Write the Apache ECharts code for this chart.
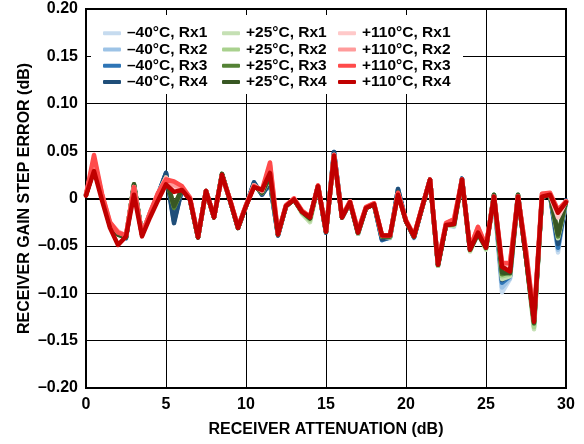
<!DOCTYPE html>
<html>
<head>
<meta charset="utf-8">
<script src="https://cdn.jsdelivr.net/npm/echarts@6/dist/echarts.min.js"></script>
<style>html,body{margin:0;padding:0;background:#fff}#c{width:584px;height:444px}</style>
</head>
<body>
<div id="c"></div>
<script>
var xs = [0,0.5,1,1.5,2,2.5,3,3.5,4,4.5,5,5.5,6,6.5,7,7.5,8,8.5,9,9.5,10,10.5,11,11.5,12,12.5,13,13.5,14,14.5,15,15.5,16,16.5,17,17.5,18,18.5,19,19.5,20,20.5,21,21.5,22,22.5,23,23.5,24,24.5,25,25.5,26,26.5,27,27.5,28,28.5,29,29.5,30];

var seriesNames = ['–40°C, Rx1','–40°C, Rx2','–40°C, Rx3','–40°C, Rx4','+25°C, Rx1','+25°C, Rx2','+25°C, Rx3','+25°C, Rx4','+110°C, Rx1','+110°C, Rx2','+110°C, Rx3','+110°C, Rx4'];
var seriesColors = ['#c6dbef','#9dc3e6','#2e75b6','#1f4e79','#c5e0b4','#a9d18e','#548235','#385723','#ffc9c9','#ff9b9b','#ff4b4b','#c00000'];

var m40Rx1 = [0.004,0.034,0.002,-0.028,-0.036,-0.040,0.013,-0.038,-0.016,0.004,0.026,-0.015,0.010,-0.001,-0.041,0.008,-0.020,0.025,-0.002,-0.031,-0.008,0.015,0.006,0.018,-0.038,-0.008,-0.001,-0.014,-0.020,0.013,-0.035,0.047,-0.020,-0.004,-0.036,-0.010,-0.006,-0.043,-0.042,0.006,-0.024,-0.042,-0.010,0.020,-0.070,-0.028,-0.030,0.020,-0.054,-0.037,-0.052,0.002,-0.099,-0.085,0.002,-0.062,-0.134,0.002,0.004,-0.057,-0.003];
var m40Rx2 = [0.004,0.034,0.002,-0.028,-0.036,-0.040,0.013,-0.038,-0.016,0.004,0.026,-0.018,0.010,-0.001,-0.041,0.008,-0.020,0.025,-0.002,-0.031,-0.008,0.015,0.006,0.017,-0.038,-0.008,-0.001,-0.014,-0.020,0.013,-0.035,0.047,-0.020,-0.004,-0.036,-0.010,-0.006,-0.043,-0.041,0.006,-0.024,-0.041,-0.010,0.020,-0.070,-0.028,-0.029,0.020,-0.054,-0.037,-0.052,0.002,-0.094,-0.084,0.002,-0.062,-0.135,0.002,0.004,-0.054,-0.003];
var m40Rx3 = [0.004,0.036,0.002,-0.028,-0.037,-0.042,0.013,-0.038,-0.016,0.004,0.027,-0.024,0.010,-0.001,-0.041,0.008,-0.020,0.025,-0.002,-0.031,-0.008,0.017,0.004,0.016,-0.039,-0.008,-0.001,-0.014,-0.020,0.013,-0.036,0.049,-0.020,-0.004,-0.037,-0.010,-0.006,-0.044,-0.041,0.010,-0.024,-0.041,-0.010,0.020,-0.071,-0.028,-0.028,0.021,-0.054,-0.037,-0.052,0.002,-0.089,-0.082,0.002,-0.062,-0.132,0.002,0.004,-0.052,-0.002];
var m40Rx4 = [0.004,0.035,0.002,-0.028,-0.037,-0.041,0.013,-0.038,-0.016,0.004,0.027,-0.026,0.010,-0.001,-0.041,0.008,-0.020,0.025,-0.002,-0.031,-0.008,0.017,0.004,0.017,-0.039,-0.008,-0.001,-0.014,-0.020,0.013,-0.036,0.049,-0.020,-0.004,-0.037,-0.010,-0.006,-0.043,-0.041,0.010,-0.024,-0.041,-0.010,0.020,-0.070,-0.028,-0.028,0.021,-0.054,-0.037,-0.052,0.003,-0.086,-0.081,0.003,-0.062,-0.131,0.003,0.004,-0.048,-0.002];

var p25Rx1 = [0.004,0.032,0.002,-0.028,-0.036,-0.040,0.014,-0.038,-0.016,0.004,0.022,-0.008,0.010,-0.001,-0.041,0.008,-0.020,0.025,-0.002,-0.031,-0.008,0.014,0.006,0.022,-0.038,-0.008,-0.001,-0.016,-0.025,0.013,-0.035,0.046,-0.020,-0.004,-0.037,-0.010,-0.006,-0.040,-0.041,0.005,-0.024,-0.040,-0.010,0.019,-0.071,-0.028,-0.029,0.019,-0.056,-0.037,-0.054,0.002,-0.085,-0.082,0.002,-0.062,-0.138,0.002,0.004,-0.042,-0.003];
var p25Rx2 = [0.004,0.032,0.002,-0.028,-0.036,-0.040,0.014,-0.038,-0.016,0.004,0.022,-0.009,0.010,-0.001,-0.041,0.008,-0.020,0.025,-0.002,-0.031,-0.008,0.014,0.006,0.022,-0.038,-0.008,-0.001,-0.015,-0.023,0.013,-0.035,0.046,-0.020,-0.004,-0.037,-0.010,-0.006,-0.040,-0.041,0.005,-0.024,-0.040,-0.010,0.019,-0.071,-0.028,-0.028,0.019,-0.055,-0.037,-0.053,0.002,-0.082,-0.080,0.002,-0.062,-0.136,0.002,0.004,-0.040,-0.003];
var p25Rx3 = [0.004,0.031,0.002,-0.029,-0.038,-0.041,0.015,-0.038,-0.016,0.004,0.022,-0.010,0.010,-0.001,-0.041,0.008,-0.020,0.026,-0.002,-0.031,-0.008,0.014,0.006,0.024,-0.038,-0.008,-0.001,-0.014,-0.021,0.013,-0.035,0.046,-0.020,-0.004,-0.036,-0.010,-0.006,-0.040,-0.040,0.006,-0.024,-0.040,-0.010,0.020,-0.070,-0.028,-0.027,0.020,-0.054,-0.037,-0.052,0.004,-0.080,-0.078,0.004,-0.062,-0.132,0.002,0.004,-0.040,-0.003];
var p25Rx4 = [0.004,0.031,0.002,-0.029,-0.038,-0.041,0.015,-0.038,-0.016,0.004,0.021,-0.008,0.010,-0.001,-0.041,0.008,-0.020,0.026,-0.002,-0.031,-0.008,0.014,0.006,0.024,-0.038,-0.008,-0.001,-0.014,-0.021,0.013,-0.035,0.046,-0.020,-0.004,-0.036,-0.010,-0.006,-0.040,-0.040,0.006,-0.024,-0.040,-0.010,0.020,-0.070,-0.028,-0.027,0.020,-0.054,-0.037,-0.052,0.004,-0.078,-0.079,0.004,-0.062,-0.131,0.002,0.004,-0.038,-0.003];

var p110Rx1 = [0.004,0.040,0.004,-0.026,-0.035,-0.039,0.012,-0.038,-0.015,0.005,0.022,0.012,0.010,0.000,-0.040,0.008,-0.019,0.024,-0.001,-0.030,-0.007,0.014,0.008,0.032,-0.037,-0.007,0.000,-0.013,-0.019,0.013,-0.034,0.046,-0.019,-0.003,-0.034,-0.009,-0.005,-0.039,-0.039,0.005,-0.023,-0.039,-0.009,0.020,-0.068,-0.026,-0.023,0.020,-0.052,-0.030,-0.050,0.002,-0.068,-0.070,0.002,-0.055,-0.125,0.004,0.004,-0.020,-0.003];
var p110Rx2 = [0.004,0.042,0.004,-0.026,-0.035,-0.039,0.012,-0.038,-0.015,0.005,0.021,0.014,0.011,0.000,-0.040,0.008,-0.019,0.024,-0.001,-0.030,-0.007,0.014,0.008,0.035,-0.037,-0.007,0.000,-0.013,-0.019,0.013,-0.034,0.046,-0.019,-0.003,-0.034,-0.009,-0.005,-0.039,-0.039,0.005,-0.023,-0.039,-0.009,0.020,-0.068,-0.026,-0.022,0.020,-0.052,-0.031,-0.050,0.002,-0.070,-0.069,0.002,-0.056,-0.128,0.005,0.005,-0.015,-0.003];
var p110Rx3 = [0.004,0.046,0.005,-0.025,-0.036,-0.039,0.012,-0.038,-0.015,0.006,0.020,0.018,0.013,0.001,-0.040,0.008,-0.019,0.024,-0.001,-0.030,-0.007,0.013,0.009,0.038,-0.037,-0.007,0.000,-0.013,-0.019,0.014,-0.034,0.046,-0.019,-0.003,-0.034,-0.009,-0.005,-0.039,-0.039,0.006,-0.023,-0.039,-0.009,0.020,-0.068,-0.026,-0.022,0.020,-0.052,-0.030,-0.050,0.002,-0.068,-0.068,0.002,-0.055,-0.126,0.005,0.006,-0.012,-0.003];
var p110Rx4 = [0.003,0.029,-0.002,-0.031,-0.049,-0.040,0.004,-0.040,-0.020,-0.002,0.015,0.007,0.009,-0.001,-0.041,0.008,-0.020,0.025,-0.002,-0.031,-0.008,0.012,0.009,0.027,-0.038,-0.008,-0.001,-0.014,-0.020,0.013,-0.035,0.045,-0.020,-0.004,-0.036,-0.010,-0.006,-0.039,-0.039,0.004,-0.024,-0.040,-0.010,0.020,-0.070,-0.028,-0.027,0.020,-0.054,-0.036,-0.052,0.002,-0.072,-0.077,0.002,-0.061,-0.130,0.002,0.004,-0.015,-0.004];

var seriesValues = [m40Rx1,m40Rx2,m40Rx3,m40Rx4,p25Rx1,p25Rx2,p25Rx3,p25Rx4,p110Rx1,p110Rx2,p110Rx3,p110Rx4];

var xTicks = {min:0, max:30, interval:5};
var yTicks = {min:-0.2, max:0.2, interval:0.05};

var FONT = '"Liberation Sans", Arial, sans-serif';

var series = seriesNames.map(function(n, i){
  return {
    name: n, type: 'line', showSymbol: false, symbol: 'none', smooth: false,
    lineStyle: {width: 4.5, color: seriesColors[i], join: 'round', cap: 'round'},
    itemStyle: {color: seriesColors[i]},
    emphasis: {disabled: true},
    data: xs.map(function(x, j){ return [x, seriesValues[i][j]]; })
  };
});

function legendCol(names, left){
  return {
    orient: 'vertical', left: left, top: 25, padding: 0,
    itemWidth: 18, itemHeight: 4, itemGap: 0, icon: 'roundRect',
    selectedMode: false,
    textStyle: {fontFamily: FONT, fontWeight: 'bold', fontSize: 15.5, color: '#000', lineHeight: 16.3, padding: [0,0,0,1]},
    data: names
  };
}

var chart = echarts.init(document.getElementById('c'), null, {renderer: 'canvas'});
chart.setOption({
  animation: false,
  backgroundColor: '#fff',
  grid: {left: 86, right: 18, top: 9, bottom: 56, show: true, borderColor: '#000', borderWidth: 2, backgroundColor: 'transparent'},
  graphic: [{type: 'rect', shape: {x: 91, y: 15, width: 372, height: 79}, style: {fill: '#fff'}, z: 1, silent: true}],
  legend: [
    legendCol(seriesNames.slice(0,4), 103),
    legendCol(seriesNames.slice(4,8), 222),
    legendCol(seriesNames.slice(8,12), 338)
  ],
  xAxis: {
    type: 'value', min: xTicks.min, max: xTicks.max, interval: xTicks.interval,
    name: 'RECEIVER ATTENUATION (dB)', nameLocation: 'middle', nameGap: 34,
    nameTextStyle: {fontFamily: FONT, fontWeight: 'bold', fontSize: 16, color: '#000'},
    axisLine: {show: true, lineStyle: {color: '#000', width: 2}},
    axisTick: {show: false},
    axisLabel: {fontFamily: FONT, fontWeight: 'bold', fontSize: 16, color: '#000', margin: 9},
    splitLine: {show: true, lineStyle: {color: '#000', width: 1}}
  },
  yAxis: {
    type: 'value', min: yTicks.min, max: yTicks.max, interval: yTicks.interval,
    name: 'RECEIVER GAIN STEP ERROR (dB)', nameLocation: 'middle', nameGap: 53, nameMoveOverlap: false,
    nameTextStyle: {fontFamily: FONT, fontWeight: 'bold', fontSize: 16, color: '#000'},
    axisLine: {show: true, lineStyle: {color: '#000', width: 2}},
    axisTick: {show: false},
    axisLabel: {fontFamily: FONT, fontWeight: 'bold', fontSize: 16, color: '#000', margin: 8,
      formatter: function(v){ if (Math.abs(v) < 1e-9) return '0'; return (v < 0 ? '–' : '') + Math.abs(v).toFixed(2); }},
    splitLine: {show: true, lineStyle: {color: '#000', width: 1}}
  },
  series: series
});
</script>
</body>
</html>
